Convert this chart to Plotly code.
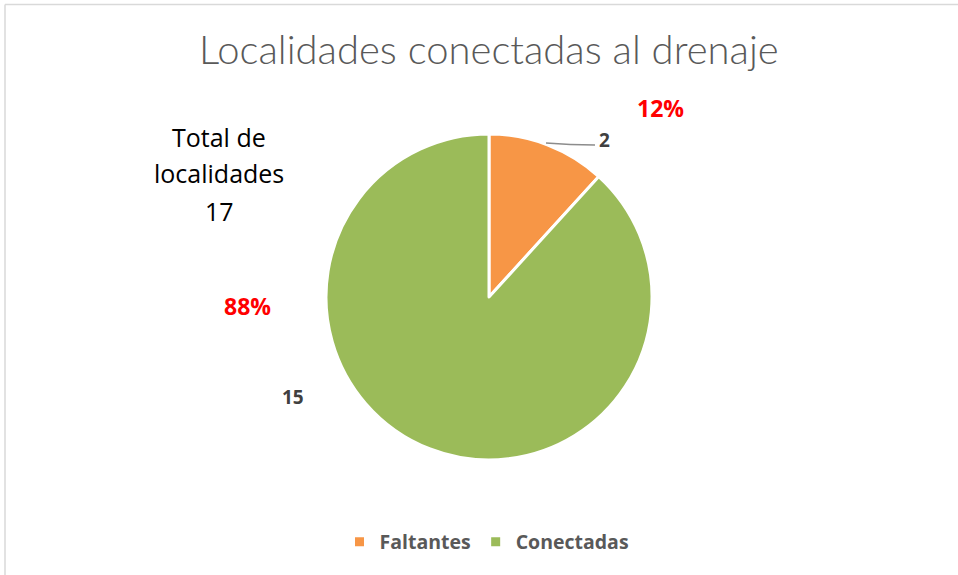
import plotly.graph_objects as go

categories = ["Faltantes", "Conectadas"]
values = [2, 15]
colors = ["#F79646", "#9BBB59"]
title_text = "Localidades conectadas al drenaje"
total_lines = ["Total de", "localidades"]

W, H = 958, 575
total = sum(values)
pcts = [round(v * 100 / total) for v in values]

def px(x):
    return x / W

def py(y):
    return 1 - y / H

cx, cy, r = 489, 297, 163

fig = go.Figure(go.Pie(
    labels=categories,
    values=values,
    sort=False,
    direction="clockwise",
    rotation=0,
    textinfo="none",
    hoverinfo="label+value+percent",
    marker=dict(colors=colors, line=dict(color="white", width=3)),
    domain=dict(x=[px(cx - r), px(cx + r)], y=[py(cy + r), py(cy - r)]),
))

ann = []
ann.append(dict(x=px(489), y=py(49), text=title_text, showarrow=False,
                font=dict(family="Lato", size=40, color="#595959", weight=300),
                xanchor="center", yanchor="middle"))
for txt, yy in zip(total_lines + [str(total)], [137, 173, 211]):
    ann.append(dict(x=px(219), y=py(yy), text=txt, showarrow=False,
                    font=dict(family="Open Sans", size=25, color="#000000"),
                    xanchor="center", yanchor="middle"))
# value labels
ann.append(dict(x=px(604), y=py(140), text=str(values[0]), showarrow=False,
                font=dict(family="Open Sans", size=19, color="#404040", weight="bold"),
                xanchor="center", yanchor="middle"))
ann.append(dict(x=px(293), y=py(397), text=str(values[1]), showarrow=False,
                font=dict(family="Open Sans", size=19, color="#404040", weight="bold"),
                xanchor="center", yanchor="middle"))
# percent labels
ann.append(dict(x=px(660), y=py(108), text=f"{pcts[0]}%", showarrow=False,
                font=dict(family="Open Sans", size=23, color="#FF0000", weight="bold"),
                xanchor="center", yanchor="middle"))
ann.append(dict(x=px(248), y=py(306), text=f"{pcts[1]}%", showarrow=False,
                font=dict(family="Open Sans", size=23, color="#FF0000", weight="bold"),
                xanchor="center", yanchor="middle"))

shapes = [
    dict(type="path", xref="paper", yref="paper",
         path=f"M {px(546)} {py(143)} Q {px(570)} {py(145)} {px(595)} {py(145)}",
         line=dict(color="#8c8c8c", width=1.5)),
    dict(type="line", xref="paper", yref="paper", x0=px(5), x1=px(960), y0=py(4.5), y1=py(4.5),
         line=dict(color="#d9d9d9", width=1.5)),
    dict(type="line", xref="paper", yref="paper", x0=px(5), x1=px(5), y0=py(4.5), y1=py(580),
         line=dict(color="#d9d9d9", width=1.5)),
]

fig.update_layout(
    width=W, height=H,
    margin=dict(l=0, r=0, t=0, b=0),
    paper_bgcolor="white",
    plot_bgcolor="white",
    annotations=ann,
    shapes=shapes,
    showlegend=True,
    legend=dict(orientation="h", x=px(487), xanchor="center", y=py(542), yanchor="middle",
                font=dict(family="Open Sans", size=19.5, color="#595959", weight="bold"),
                itemwidth=30, traceorder="normal"),
)

fig.write_html("out.html", config={"displayModeBar": False},
               post_script="document.body.style.margin='0';document.body.style.overflow='hidden';")
